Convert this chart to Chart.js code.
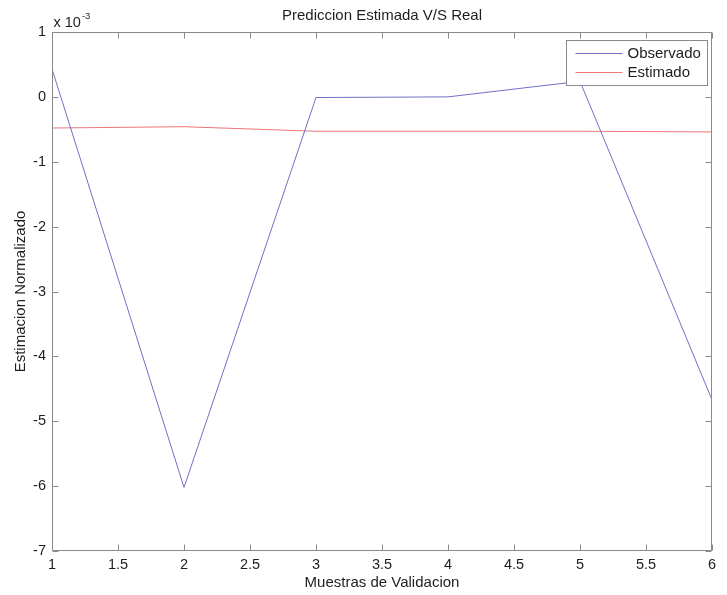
<!DOCTYPE html>
<html>
<head>
<meta charset="utf-8">
<script src="https://cdn.jsdelivr.net/npm/chart.js@4.4.0/dist/chart.umd.min.js"></script>
<style>
  html, body { margin: 0; padding: 0; background: #fff; }
  canvas { display: block; }
</style>
</head>
<body>
<canvas id="chartPrediccion" width="727" height="595"></canvas>
<script>
// muestras de validacion (eje x)
const muestras = [1, 2, 3, 4, 5, 6];
// valores en unidades de 1e-3
const observado = [0.43, -6.02, -0.01, 0.0, 0.24, -4.67];
const estimado = [-0.48, -0.46, -0.53, -0.53, -0.53, -0.54];

const xTicks = [1, 1.5, 2, 2.5, 3, 3.5, 4, 4.5, 5, 5.5, 6];
const yTicks = [1, 0, -1, -2, -3, -4, -5, -6, -7];

const fuente = "'Liberation Sans', Arial, Helvetica, sans-serif";
const gris = '#8a8a8a';
const texto = '#1e1e1e';

// caja de ejes estilo matlab: marco, ticks hacia adentro, exponente y leyenda
const marcoMatlab = {
    id: 'marcoMatlab',
    afterDatasetsDraw(chart) {
        const ctx = chart.ctx;
        const a = chart.chartArea;
        const x = chart.scales.x;
        const y = chart.scales.y;
        const L = Math.round(a.left) + 0.5, R = Math.round(a.right) - 0.5;
        const T = Math.round(a.top) + 0.5, B = Math.round(a.bottom) - 0.5;
        const tl = 6;
        ctx.save();
        ctx.strokeStyle = gris;
        ctx.lineWidth = 1;
        ctx.beginPath();
        ctx.rect(L, T, R - L, B - T);
        x.ticks.forEach(function(t) {
            const px = Math.round(x.getPixelForValue(t.value)) + 0.5;
            ctx.moveTo(px, B); ctx.lineTo(px, B - tl);
            ctx.moveTo(px, T); ctx.lineTo(px, T + tl);
        });
        y.ticks.forEach(function(t) {
            const py = Math.round(y.getPixelForValue(t.value)) + 0.5;
            ctx.moveTo(L, py); ctx.lineTo(L + tl, py);
            ctx.moveTo(R, py); ctx.lineTo(R - tl, py);
        });
        ctx.stroke();

        // factor de escala del eje y
        ctx.fillStyle = texto;
        ctx.textBaseline = 'alphabetic';
        ctx.textAlign = 'left';
        ctx.font = '14.5px ' + fuente;
        ctx.fillText('x 10', L + 1, 27);
        const w = ctx.measureText('x 10').width;
        ctx.font = '9.5px ' + fuente;
        ctx.fillText('-3', L + 1 + w + 1, 19);

        // leyenda
        const bx = 566.5, by = 40.5, bw = 141, bh = 45;
        ctx.fillStyle = '#fff';
        ctx.fillRect(bx, by, bw, bh);
        ctx.strokeStyle = gris;
        ctx.strokeRect(bx, by, bw, bh);
        ctx.font = '15px ' + fuente;
        ctx.textBaseline = 'middle';
        chart.data.datasets.forEach(function(ds, i) {
            const ly = Math.round(by + 12.5 + i * 19) + 0.5;
            ctx.strokeStyle = ds.borderColor;
            ctx.beginPath();
            ctx.moveTo(bx + 9, ly);
            ctx.lineTo(bx + 56, ly);
            ctx.stroke();
            ctx.fillStyle = texto;
            ctx.fillText(ds.label, bx + 61, ly);
        });
        ctx.restore();
    }
};

const data = {
    datasets: [{
        label: 'Observado',
        data: muestras.map(function(m, i) { return { x: m, y: observado[i] }; }),
        borderColor: 'rgb(112, 112, 200)',
        borderWidth: 1,
        pointRadius: 0,
        tension: 0,
        fill: false,
    }, {
        label: 'Estimado',
        data: muestras.map(function(m, i) { return { x: m, y: estimado[i] }; }),
        borderColor: 'rgb(238, 118, 118)',
        borderWidth: 1,
        pointRadius: 0,
        tension: 0,
        fill: false,
    }],
};

const config = {
    type: 'line',
    data,
    plugins: [marcoMatlab],
    options: {
        responsive: false,
        animation: false,
        devicePixelRatio: 1,
        layout: { padding: { left: 0, right: 15, top: 0, bottom: 0 } },
        plugins: {
            legend: { display: false },
            tooltip: { enabled: false },
            title: {
                display: true,
                text: 'Prediccion Estimada V/S Real',
                fullSize: false,
                color: texto,
                font: { family: fuente, size: 15, weight: 'normal' },
                padding: { top: 7, bottom: 7 },
            },
        },
        scales: {
            x: {
                type: 'linear',
                min: 1,
                max: 6,
                grid: { display: false, drawTicks: false },
                border: { display: false },
                afterBuildTicks: function(s) { s.ticks = xTicks.map(function(v) { return { value: v }; }); },
                afterFit: function(s) { s.height = 44; },
                ticks: {
                    color: texto,
                    padding: 5,
                    maxRotation: 0,
                    autoSkip: false,
                    font: { family: fuente, size: 14.5 },
                    callback: function(v) { return String(v); },
                },
                title: {
                    display: true,
                    text: 'Muestras de Validacion',
                    color: texto,
                    font: { family: fuente, size: 15 },
                    padding: { top: 0, bottom: 3 },
                },
            },
            y: {
                type: 'linear',
                min: -7,
                max: 1,
                grid: { display: false, drawTicks: false },
                border: { display: false },
                afterBuildTicks: function(s) { s.ticks = yTicks.map(function(v) { return { value: v }; }); },
                afterFit: function(s) { s.width = 52; },
                ticks: {
                    color: texto,
                    padding: 6,
                    autoSkip: false,
                    font: { family: fuente, size: 14.5 },
                    callback: function(v) { return String(v); },
                },
                title: {
                    display: true,
                    text: 'Estimacion Normalizado',
                    color: texto,
                    font: { family: fuente, size: 15 },
                    padding: { top: 11.5, bottom: 0 },
                },
            },
        },
    },
};

var chartPrediccion = new Chart(
    document.getElementById('chartPrediccion'),
    config
);
</script>
</body>
</html>
